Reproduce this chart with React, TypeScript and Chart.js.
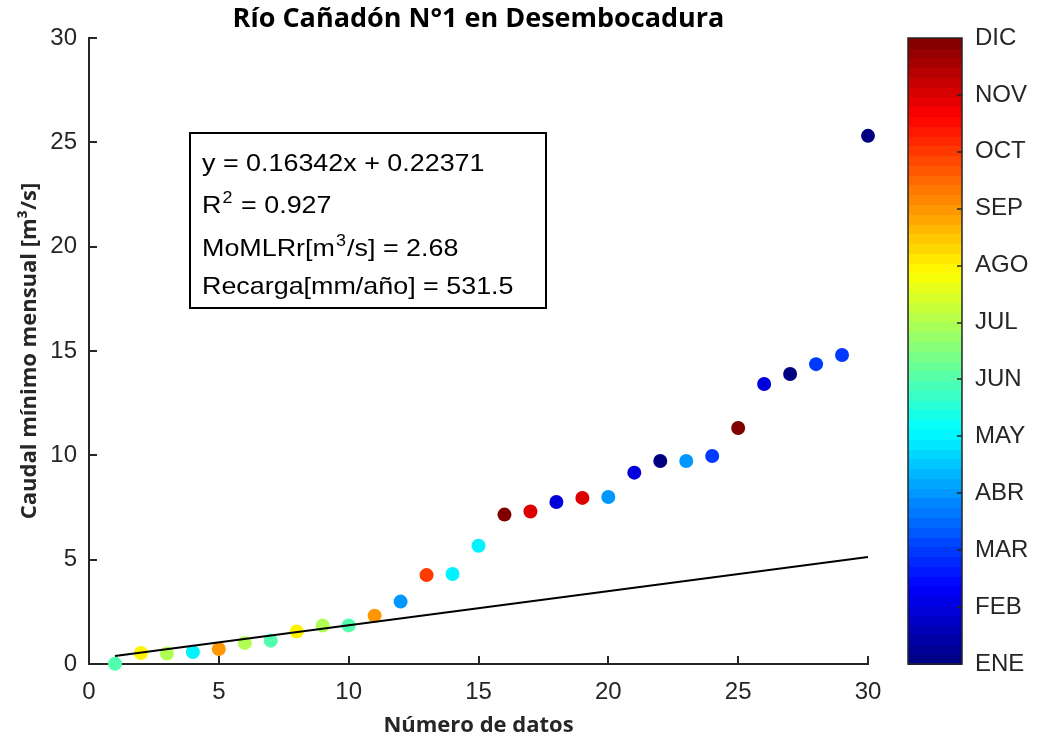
import React, { useEffect, useRef } from "react";
import { Chart, registerables } from "chart.js";

Chart.register(...registerables);

// ---- data ----
const TITLE = "Río Cañadón N°1 en Desembocadura";
const X_LABEL = "Número de datos";
const Y_LABEL = "Caudal mínimo mensual [m³/s]";
const MONTH_LABELS = ["ENE", "FEB", "MAR", "ABR", "MAY", "JUN", "JUL", "AGO", "SEP", "OCT", "NOV", "DIC"];

const numeroDatos = [1, 2, 3, 4, 5, 6, 7, 8, 9, 10, 11, 12, 13, 14, 15, 16, 17, 18, 19, 20, 21, 22, 23, 24, 25, 26, 27, 28, 29, 30];
const caudal = [0.01, 0.53, 0.5, 0.57, 0.72, 1.01, 1.12, 1.56, 1.84, 1.85, 2.31, 2.99, 4.26, 4.31, 5.67, 7.16, 7.31, 7.76, 7.96, 8.0, 9.17, 9.73, 9.73, 9.97, 11.31, 13.42, 13.9, 14.37, 14.81, 25.31];
const mes = [6, 8, 7, 5, 9, 7, 6, 8, 7, 6, 9, 4, 10, 5, 5, 12, 11, 2, 11, 4, 2, 1, 4, 3, 12, 2, 1, 3, 3, 1];

const fitX = [1, 30];
const fitY = [0.387, 5.126];

const xTicks = [0, 5, 10, 15, 20, 25, 30];
const yTicks = [0, 5, 10, 15, 20, 25, 30];

const annotLines = [
  [{ t: "y = 0.16342x + 0.22371" }],
  [{ t: "R" }, { t: "2", sup: true }, { t: " = 0.927" }],
  [{ t: "MoMLRr[m" }, { t: "3", sup: true }, { t: "/s] = 2.68" }],
  [{ t: "Recarga[mm/año] = 531.5" }],
];

// ---- helpers ----
function jet(t: number): string {
  const c = (v: number) => Math.max(0, Math.min(1, v));
  const r = c(1.5 - Math.abs(4 * t - 3));
  const g = c(1.5 - Math.abs(4 * t - 2));
  const b = c(1.5 - Math.abs(4 * t - 1));
  return `rgb(${Math.round(r * 255)},${Math.round(g * 255)},${Math.round(b * 255)})`;
}
const monthColor = (m: number) => jet((m - 1) / 11);

const AXIS_COLOR = "#262626";
const TICK_FONT = { family: "'Liberation Sans', Arial, sans-serif", size: 24 };
const LABEL_FONT = { family: "'Open Sans', sans-serif", size: 22, weight: "bold" as const };

const decorPlugin = {
  id: "decor",
  afterDraw(chart: any) {
    const { ctx, chartArea, scales } = chart;
    const xs = scales.x, ys = scales.y, cb = scales.cb;
    ctx.save();
    // inner tick marks
    ctx.strokeStyle = AXIS_COLOR;
    ctx.lineWidth = 2;
    ctx.beginPath();
    xTicks.forEach((v) => {
      if (v === xs.min) return;
      const px = Math.round(xs.getPixelForValue(v));
      ctx.moveTo(px, chartArea.bottom);
      ctx.lineTo(px, chartArea.bottom - 8);
    });
    yTicks.forEach((v) => {
      if (v === ys.min) return;
      const py = Math.round(ys.getPixelForValue(v));
      ctx.moveTo(chartArea.left, py);
      ctx.lineTo(chartArea.left + 8, py);
    });
    ctx.stroke();

    // colorbar
    const cx0 = chartArea.right + 40;
    const cw = 54;
    const top = cb.getPixelForValue(12);
    const bottom = cb.getPixelForValue(1);
    const n = 64;
    const bandH = (bottom - top) / n;
    for (let i = 0; i < n; i++) {
      ctx.fillStyle = jet((i + 0.5) / n);
      const y1 = bottom - (i + 1) * bandH;
      ctx.fillRect(cx0, Math.floor(y1), cw, Math.ceil(bandH) + 1);
    }
    ctx.strokeStyle = AXIS_COLOR;
    ctx.lineWidth = 1.5;
    ctx.strokeRect(cx0, top, cw, bottom - top);
    ctx.beginPath();
    for (let m = 2; m <= 11; m++) {
      const py = Math.round(cb.getPixelForValue(m));
      ctx.moveTo(cx0 + cw, py);
      ctx.lineTo(cx0 + cw - 5, py);
    }
    ctx.stroke();

    // annotation box
    const bx = chartArea.left + 101;
    const by = chartArea.top + 95;
    const bw = 356;
    const bh = 175;
    ctx.fillStyle = "#ffffff";
    ctx.fillRect(bx, by, bw, bh);
    ctx.strokeStyle = "#000";
    ctx.lineWidth = 2;
    ctx.strokeRect(bx, by, bw, bh);
    const baselines = [171, 213, 256, 294];
    const sx = 1.12;
    ctx.fillStyle = "#000";
    ctx.textBaseline = "alphabetic";
    ctx.textAlign = "left";
    annotLines.forEach((parts, li) => {
      ctx.save();
      ctx.translate(bx + 12, chartArea.top + baselines[li] - 38);
      ctx.scale(sx, 1);
      let x = 0;
      parts.forEach((p: any) => {
        if (p.sup) {
          ctx.font = "16px 'Liberation Sans', Arial, sans-serif";
          ctx.fillText(p.t, x + 1, -10);
          x += ctx.measureText(p.t).width + 2;
        } else {
          ctx.font = "24px 'Liberation Sans', Arial, sans-serif";
          ctx.fillText(p.t, x, 0);
          x += ctx.measureText(p.t).width;
        }
      });
      ctx.restore();
    });
    ctx.restore();
  },
};

export default function App() {
  const canvasRef = useRef<HTMLCanvasElement | null>(null);

  useEffect(() => {
    const canvas = canvasRef.current;
    if (!canvas) return;
    const points = numeroDatos.map((x, i) => ({ x, y: caudal[i] }));
    const fitPts = fitX.map((x, i) => ({ x, y: fitY[i] }));
    const chart = new Chart(canvas, {
      type: "scatter",
      data: {
        datasets: [
          {
            type: "line",
            data: fitPts,
            borderColor: "#000",
            borderWidth: 2,
            pointRadius: 0,
            showLine: true,
            fill: false,
          } as any,
          {
            data: points,
            pointRadius: 7,
            pointBorderWidth: 0,
            pointBackgroundColor: mes.map(monthColor),
            pointBorderColor: mes.map(monthColor),
            clip: false,
          } as any,
        ],
      },
      plugins: [decorPlugin],
      options: {
        animation: false,
        responsive: false,
        devicePixelRatio: 1,
        layout: { padding: 0 },
        plugins: {
          legend: { display: false },
          tooltip: { enabled: false },
          title: {
            display: true,
            text: TITLE,
            fullSize: false,
            color: "#000",
            font: { family: "'Open Sans', sans-serif", size: 27, weight: "bold" },
            padding: { top: 3, bottom: 2.6 },
          },
        },
        scales: {
          x: {
            type: "linear",
            position: "bottom",
            min: 0,
            max: 30,
            afterFit: (s: any) => { s.height = 80; s.paddingLeft = 10; s.paddingRight = 10; },
            ticks: { stepSize: 5, font: TICK_FONT, color: AXIS_COLOR, padding: 14, maxRotation: 0 },
            grid: { display: false, drawTicks: false },
            border: { display: true, color: AXIS_COLOR, width: 2 },
            title: { display: true, text: X_LABEL, font: LABEL_FONT, color: AXIS_COLOR, padding: { top: 0, bottom: 5 } },
          },
          y: {
            type: "linear",
            position: "left",
            min: 0,
            max: 30,
            afterFit: (s: any) => { s.width = 89; s.paddingTop = 10; s.paddingBottom = 10; },
            ticks: { stepSize: 5, font: TICK_FONT, color: AXIS_COLOR, padding: 12 },
            grid: { display: false, drawTicks: false },
            border: { display: true, color: AXIS_COLOR, width: 2 },
            title: { display: true, text: Y_LABEL, font: LABEL_FONT, color: AXIS_COLOR, padding: { top: 17, bottom: 0 } },
          },
          cb: {
            type: "linear",
            position: "right",
            min: 1,
            max: 12,
            afterFit: (s: any) => { s.width = 171; s.paddingTop = 10; s.paddingBottom = 10; },
            ticks: {
              stepSize: 1,
              font: TICK_FONT,
              color: AXIS_COLOR,
              padding: 107,
              autoSkip: false,
              callback: (v: any) => MONTH_LABELS[Math.round(v) - 1] ?? "",
            },
            grid: { display: false, drawTicks: false },
            border: { display: false },
          },
        },
      } as any,
    });
    return () => chart.destroy();
  }, []);

  return (
    <div style={{ position: "absolute", left: 0, top: 0, width: 1039, height: 744, background: "#fff" }}>
      <canvas ref={canvasRef} width={1039} height={744} style={{ width: 1039, height: 744, display: "block" }} />
    </div>
  );
}
